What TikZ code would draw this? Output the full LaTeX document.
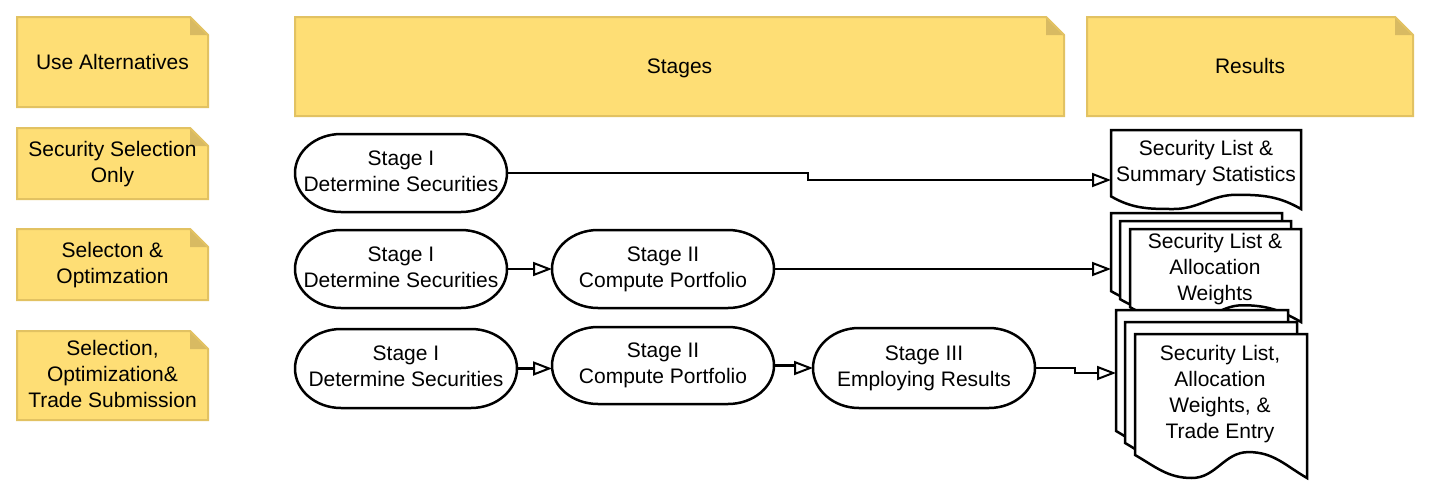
\documentclass[tikz,border=0pt]{standalone}
\usepackage{fontspec}
\setmainfont{Liberation Sans}
\usetikzlibrary{arrows.meta}
\definecolor{nfill}{HTML}{FEDE75}
\definecolor{nline}{HTML}{E2C262}
\definecolor{nfold}{HTML}{D8BA62}
\tikzset{
  txt/.style={font=\fontsize{21}{26}\selectfont, align=center, inner sep=0pt, outer sep=0pt,
    yshift=-1.8pt, execute at begin node=\strut, execute at end node=\strut},
  anchorbox/.style={inner sep=0pt, outer sep=0pt},
  conn/.style={line width=2.5pt, -{Triangle[open,length=19pt,width=14pt,line width=2pt]}},
  shapeline/.style={line width=2.5pt, draw=black, fill=white, line join=miter},
  noteline/.style={draw=nline, fill=nfill, line width=2pt, line join=miter}
}
% name, x0, y0, x1, y1, text
\newcommand{\ynote}[6]{%
  \filldraw[noteline] (#2,#3) -- (#4-18,#3) -- (#4,#3+18) -- (#4,#5) -- (#2,#5) -- cycle;
  \fill[nfold] (#4-18,#3) -- (#4-18,#3+18) -- (#4,#3+18) -- cycle;
  \draw[nline, line width=2pt] (#4-18,#3) -- (#4,#3+18);
  \node[txt] (#1) at ({(#2+#4)/2},{(#3+#5)/2}) {#6};}
% name, cx, cy, w, h, text
\newcommand{\stagebox}[6]{%
  \node[anchorbox, minimum width=#4pt, minimum height=#5pt] (#1) at (#2,#3) {};
  \draw[shapeline] (#2-#4/2+46,#3-#5/2) -- (#2+#4/2-46,#3-#5/2)
     arc[start angle=90, end angle=-90, x radius=46pt, y radius=#5pt/2]
     -- (#2-#4/2+46,#3+#5/2)
     arc[start angle=270, end angle=90, x radius=46pt, y radius=#5pt/2] -- cycle;
  \node[txt] at (#2,#3) {#6};}
% x0, y0, W, H
\newcommand{\docpage}[4]{%
  \draw[shapeline] (#1,#2) -- (#1+#3,#2) -- (#1+#3,#2+#4)
     to[out=150,in=0] (#1+0.66*#3,#2+0.82*#4)
     to[out=180,in=0] (#1+0.33*#3,#2+#4)
     to[out=180,in=-30] (#1,#2+0.84*#4) -- cycle;}
\begin{document}
\begin{tikzpicture}[x=1pt,y=-1pt]
\useasboundingbox[fill=white] (0,0) rectangle (1430,501);

% notes
\ynote{n1}{17}{17}{208}{107}{Use Alternatives}
\ynote{n2}{17}{128}{208}{199}{Security Selection\\Only}
\ynote{n3}{17}{229}{208}{300}{Selecton \&\\Optimzation}
\ynote{n4}{17}{331}{208}{420}{Selection,\\Optimization\&\\Trade Submission}
\ynote{nst}{295}{17}{1064}{116}{Stages}
\ynote{nres}{1087}{17}{1413}{116}{Results}

% stages
\stagebox{s11}{401}{173}{212}{78}{Stage I\\Determine Securities}
\stagebox{s21}{401}{269}{212}{78}{Stage I\\Determine Securities}
\stagebox{s22}{663}{269}{222}{78}{Stage II\\Compute Portfolio}
\stagebox{s31}{406}{368.5}{222}{79}{Stage I\\Determine Securities}
\stagebox{s32}{663}{365.5}{222}{77}{Stage II\\Compute Portfolio}
\stagebox{s33}{924}{368}{222}{80}{Stage III\\Employing Results}

% documents
\docpage{1111}{130}{190}{79}
\node[txt] (d1) at (1206,162.8) {Security List \&\\Summary Statistics};
\coordinate (d1in) at (1111,180);

\docpage{1111}{213}{171}{93}
\docpage{1120}{221}{171}{93}
\docpage{1130}{229}{171}{93}
\node[txt] (d2) at (1215,268.8) {Security List \&\\Allocation\\Weights};
\coordinate (d2in) at (1111,269);

\docpage{1116}{310}{172}{144}
\docpage{1125}{322}{172}{144}
\docpage{1135}{334}{172}{144}
\node[txt] (d3) at (1220,394.3) {Security List,\\Allocation\\Weights, \&\\Trade Entry};
\coordinate (d3in) at (1116,373);

% connectors
\coordinate (b1) at (808,180);
\draw[conn] (s11.east) -| (b1) -- (d1in);
\draw[conn] (s21.east) -- (s22.west);
\draw[conn] (s22.east) -- (d2in);
\draw[conn] (s31.east) -- (s31.east -| s32.west);
\coordinate (b2) at (795,368);
\draw[conn] (s32.east) -| (b2) -- (s33.west);
\coordinate (b3) at (1075,373);
\draw[conn] (s33.east) -| (b3) -- (d3in);
\end{tikzpicture}
\end{document}
